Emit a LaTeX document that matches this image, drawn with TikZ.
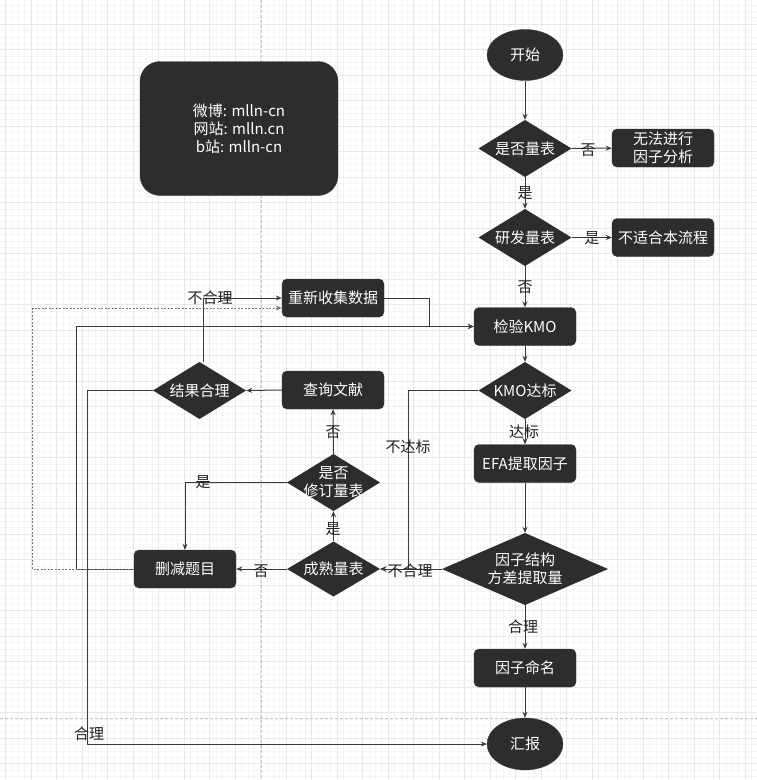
\documentclass[tikz,border=0pt]{standalone}
\usepackage{fontspec}
\setmainfont{Noto Sans CJK SC}
\usetikzlibrary{shapes.geometric,arrows.meta,calc}

\definecolor{boxfill}{HTML}{2D2D2D}
\definecolor{boxline}{HTML}{3C3C3C}
\definecolor{edgecol}{HTML}{3A3A3A}
\definecolor{labelcol}{HTML}{222222}
\definecolor{gridminor}{HTML}{F5F5F5}
\definecolor{gridmajor}{HTML}{E8E8E8}
\definecolor{pagebreak}{HTML}{C4C4C4}

\tikzset{
  every node/.style={font=\fontsize{15}{18}\selectfont},
  procbox/.style={rectangle, rounded corners=5pt, fill=boxfill, draw=boxline,
    text=white, minimum width=102pt, minimum height=38pt, align=center, inner sep=1pt},
  % a decision is a fixed-size box whose inside is painted as a diamond,
  % so its compass anchors are the diamond's corners
  decision/.style={rectangle, minimum width=93pt, minimum height=57pt,
    inner sep=0pt, text=white, align=center,
    path picture={\fill[boxfill] (path picture bounding box.north)
      -- (path picture bounding box.east) -- (path picture bounding box.south)
      -- (path picture bounding box.west) -- cycle;}},
  terminal/.style={ellipse, fill=boxfill, draw=boxline, text=white,
    minimum width=76pt, minimum height=51pt, inner sep=0pt},
  flow/.style={draw=edgecol, line width=1pt, -{Stealth[length=6pt,width=5pt]}},
  backflow/.style={flow, dash pattern=on 2pt off 1.5pt, draw=edgecol!70},
  edgelabel/.style={text=labelcol, inner sep=0pt},
}

\begin{document}
\begin{tikzpicture}[x=1pt, y=-1pt]
\useasboundingbox (0,0) rectangle (757,780);
\fill[white] (0,0) rectangle (757,780);

% background grid
\begin{scope}
  \clip (0,0) rectangle (757,780);
  \foreach \i in {-1,...,119} {
    \draw[gridminor, line width=0.5pt] ({5.5+6.375*\i},0) -- ({5.5+6.375*\i},780);
  }
  \foreach \i in {-4,...,123} {
    \draw[gridminor, line width=0.5pt] (0,{24+6.375*\i}) -- (757,{24+6.375*\i});
  }
  \foreach \i in {-1,...,30} {
    \draw[gridmajor, line width=0.8pt] ({5.5+25.5*\i},0) -- ({5.5+25.5*\i},780);
  }
  \foreach \i in {-1,...,31} {
    \draw[gridmajor, line width=0.8pt] (0,{24+25.5*\i}) -- (757,{24+25.5*\i});
  }
  \draw[pagebreak, line width=0.8pt, dash pattern=on 3pt off 2pt] (261,0) -- (261,780);
  \draw[pagebreak, line width=0.8pt, dash pattern=on 3pt off 2pt] (0,718) -- (757,718);
\end{scope}

% contact card
\node[rectangle, rounded corners=20pt, fill=boxfill, draw=boxline, text=white,
      minimum width=198pt, minimum height=134pt, align=center] (info) at (239,128.5)
  {微博: mlln-cn\\网站: mlln.cn\\b站: mlln-cn};

% main column
\node[terminal] (start) at (525,55) {开始};
\node[decision] (isscale) at (525,148.5) {是否量表};
\node[procbox] (nofa) at (663,148) {无法进行\\因子分析};
\node[decision] (develop) at (525,237.5) {研发量表};
\node[procbox] (notfit) at (663,237.5) {不适合本流程};
\node[procbox] (kmo) at (525,326.5) {检验KMO};
\node[decision] (kmook) at (525,390.5) {KMO达标};
\node[procbox] (efa) at (525,463.5) {EFA提取因子};
\node[decision, minimum width=166pt, minimum height=72pt] (fs) at (525,569) {因子结构\\方差提取量};
\node[procbox] (naming) at (525,668) {因子命名};
\node[terminal, minimum height=52pt] (report) at (525,744) {汇报};

% revision branch
\node[procbox] (recollect) at (333,298) {重新收集数据};
\node[procbox] (lit) at (333,390) {查询文献};
\node[decision] (result) at (199.5,390.5) {结果合理};
\node[decision] (revise) at (333.5,482.5) {是否\\修订量表};
\node[decision, minimum height=55pt] (mature) at (333.5,569) {成熟量表};
\node[procbox] (delete) at (185,569) {删减题目};

% connectors
\draw[flow] (start) -- (isscale);
\draw[flow] (isscale) -- (nofa);
\draw[flow] (isscale) -- (develop);
\draw[flow] (develop) -- (notfit);
\draw[flow] (develop) -- (kmo);
\draw[flow] (recollect.east) -- ++(45,0) |- (kmo.west);
\draw[flow] (delete.west) -- ++(-57,0) |- (kmo.west);
\draw[backflow] (delete.west) -- ++(-101,0) |- ([yshift=-10pt]recollect.west);
\draw[flow] (kmo) -- (kmook);
\draw[flow] (kmook) -- (efa);
\draw[flow] (kmook.west) -- ++(-70,0) |- (mature.east);
\draw[flow] (efa) -- (fs);
\draw[flow] (fs.west) -- (mature.east);
\draw[flow] (mature.west) -- (delete.east);
\draw[flow] (mature) -- (revise);
\draw[flow] (revise) -- (lit);
\draw[flow] (revise.west) -| (delete.north);
\draw[flow] (lit.west) -- (result.east);
\draw[flow] ([xshift=3.5pt]result.north) |- (recollect.west);
\draw[flow] (result.west) -- ++(-65,0) |- (report.west);
\draw[flow] (fs) -- (naming);
\draw[flow] (naming) -- (report);

% connector labels
\node[edgelabel] (l1) at (588,150) {否};
\node[edgelabel] (l2) at (525,193) {是};
\node[edgelabel] (l3) at (592,238) {是};
\node[edgelabel] (l4) at (525,287) {否};
\node[edgelabel] (l5) at (524,432) {达标};
\node[edgelabel] (l6) at (408,447) {不达标};
\node[edgelabel] (l7) at (410,571) {不合理};
\node[edgelabel] (l8) at (261,571) {否};
\node[edgelabel] (l9) at (333,529) {是};
\node[edgelabel] (l10) at (333,432) {否};
\node[edgelabel] (l11) at (203,482) {是};
\node[edgelabel] (l12) at (210,298) {不合理};
\node[edgelabel] (l13) at (89,734) {合理};
\node[edgelabel] (l14) at (523,627) {合理};
\end{tikzpicture}
\end{document}
